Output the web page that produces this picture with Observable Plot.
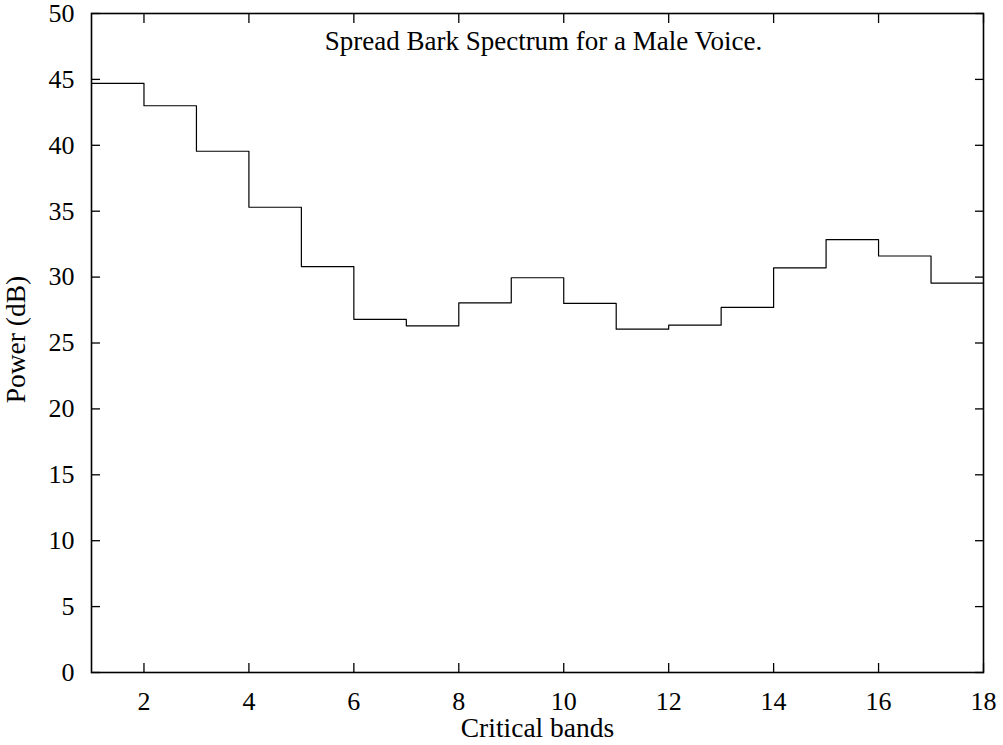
<!DOCTYPE html>
<html>
<head>
<meta charset="utf-8">
<script src="https://cdn.jsdelivr.net/npm/d3@7"></script>
<script src="https://cdn.jsdelivr.net/npm/@observablehq/plot@0.6"></script>
<style>
  html, body { margin: 0; padding: 0; background: #fff; }
</style>
</head>
<body>
<div id="chart"></div>
<script>
// Data
const bands = [1, 2, 3, 4, 5, 6, 7, 8, 9, 10, 11, 12, 13, 14, 15, 16, 17, 18];
const power = [44.7, 43.0, 39.55, 35.3, 30.8, 26.8, 26.3, 28.05, 29.95, 28.0, 26.05, 26.35, 27.7, 30.7, 32.85, 31.6, 29.55, 29.55];
const xTicks = [2, 4, 6, 8, 10, 12, 14, 16, 18];
const yTicks = [0, 5, 10, 15, 20, 25, 30, 35, 40, 45, 50];
const title = "Spread Bark Spectrum for a Male Voice.";
const xLabel = "Critical bands";
const yLabel = "Power (dB)";

const data = bands.map((b, i) => ({band: b, power: power[i]}));
const blank = () => "";

const chart = Plot.plot({
  width: 1003,
  height: 745,
  marginLeft: 91,
  marginRight: 20,
  marginTop: 13,
  marginBottom: 73,
  style: {fontFamily: "'Liberation Serif', 'Times New Roman', serif", fontSize: "26px", color: "black", background: "white"},
  x: {domain: [1, 18]},
  y: {domain: [0, 50]},
  marks: [
    // inward ticks on all four sides
    Plot.axisX({anchor: "bottom", ticks: xTicks, tickSize: -9, tickFormat: blank, label: null, strokeWidth: 1.3}),
    Plot.axisX({anchor: "top", ticks: xTicks, tickSize: -9, tickFormat: blank, label: null, strokeWidth: 1.3}),
    Plot.axisY({anchor: "left", ticks: yTicks, tickSize: -9, tickFormat: blank, label: null, strokeWidth: 1.3}),
    Plot.axisY({anchor: "right", ticks: yTicks, tickSize: -9, tickFormat: blank, label: null, strokeWidth: 1.3}),
    // tick labels
    Plot.axisX({anchor: "bottom", ticks: xTicks, tickSize: 0, tickPadding: 19, label: null, fontSize: 26}),
    Plot.axisY({anchor: "left", ticks: yTicks, tickSize: 0, tickPadding: 17, label: null, fontSize: 26}),
    // data
    Plot.line(data, {x: "band", y: "power", curve: "step-after", stroke: "black", strokeWidth: 1.2}),
    Plot.frame({stroke: "black", strokeWidth: 1.6}),
    // texts
    Plot.text([title], {frameAnchor: "top", lineAnchor: "middle", dy: 27.5, dx: 6, fontSize: 27}),
    Plot.text([xLabel], {frameAnchor: "bottom", lineAnchor: "middle", dy: 56, fontSize: 27.5}),
    Plot.text([yLabel], {frameAnchor: "left", textAnchor: "middle", lineAnchor: "middle", dx: -75.5, dy: -3.5, rotate: -90, fontSize: 27.5})
  ]
});
document.getElementById("chart").append(chart);
</script>
</body>
</html>
